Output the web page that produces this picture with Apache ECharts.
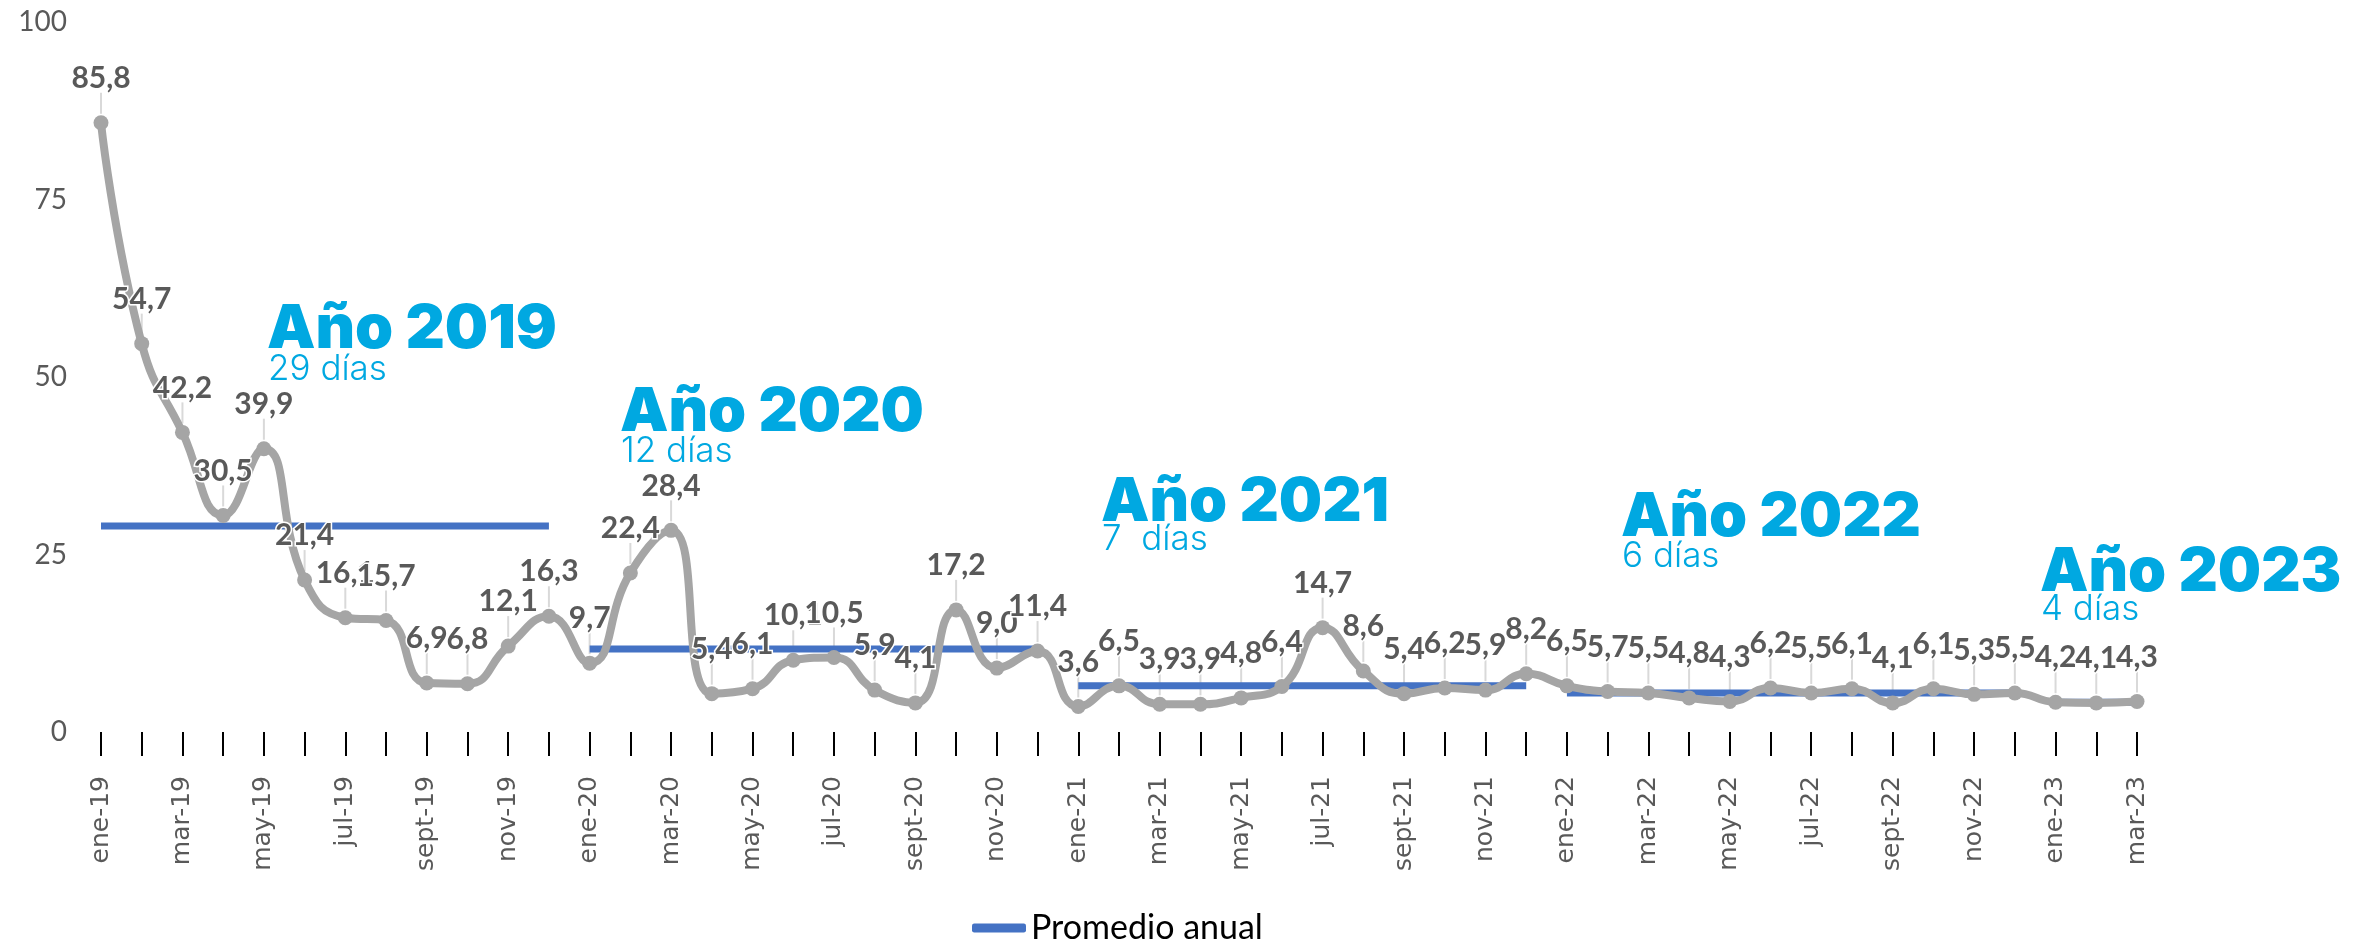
<!DOCTYPE html>
<html>
<head>
<meta charset="utf-8">
<script src="https://cdn.jsdelivr.net/npm/echarts@6/dist/echarts.min.js"></script>
<style>
html,body{margin:0;padding:0;background:#ffffff;}
#c{width:2378px;height:942px;}
</style>
</head>
<body>
<div id="c"></div>
<script>
// ---- Data ----
const months = [
  'ene-19','feb-19','mar-19','abr-19','may-19','jun-19','jul-19','ago-19','sept-19','oct-19','nov-19','dic-19',
  'ene-20','feb-20','mar-20','abr-20','may-20','jun-20','jul-20','ago-20','sept-20','oct-20','nov-20','dic-20',
  'ene-21','feb-21','mar-21','abr-21','may-21','jun-21','jul-21','ago-21','sept-21','oct-21','nov-21','dic-21',
  'ene-22','feb-22','mar-22','abr-22','may-22','jun-22','jul-22','ago-22','sept-22','oct-22','nov-22','dic-22',
  'ene-23','feb-23','mar-23'
];
const dias = [
  85.8,54.7,42.2,30.5,39.9,21.4,16.1,15.7,6.9,6.8,12.1,16.3,
  9.7,22.4,28.4,5.4,6.1,10.1,10.5,5.9,4.1,17.2,9.0,11.4,
  3.6,6.5,3.9,3.9,4.8,6.4,14.7,8.6,5.4,6.2,5.9,8.2,
  6.5,5.7,5.5,4.8,4.3,6.2,5.5,6.1,4.1,6.1,5.3,5.5,
  4.2,4.1,4.3
];
const years = ['2019','2020','2021','2022','2023'];
const yearStart = [0,12,24,36,48];
const yearEnd = [11,23,35,47,50];
const promedioAnual = [29.0, 11.7, 6.5, 5.5, 4.2];
const yearTitles = ['Año 2019','Año 2020','Año 2021','Año 2022','Año 2023'];
const yearDays = ['29 días','12 días','7  días','6 días','4 días'];
const yTicks = [0,25,50,75,100];

// ---- Chart ----
const chart = echarts.init(document.getElementById('c'), null, {renderer:'canvas'});
const fmt = v => v.toFixed(1).replace('.', ',');
const FONT = 'Lato, "Open Sans", sans-serif';

const promSeries = years.map((y, k) => ({
  name: 'Promedio anual',
  type: 'line',
  data: months.map((m, i) => (i >= yearStart[k] && i <= yearEnd[k]) ? promedioAnual[k] : null),
  showSymbol: false,
  symbol: 'none',
  connectNulls: false,
  lineStyle: {color: '#4472C4', width: 7, cap: 'butt'},
  itemStyle: {color: '#4472C4'},
  z: 2,
  silent: true
}));

const annotPos = [
  [267, 329, 372],
  [620, 412, 454],
  [1101, 502, 542],
  [1621, 517, 559],
  [2040, 572, 612]
];
const graphics = [];
yearTitles.forEach((t, k) => {
  graphics.push({type:'text', left: annotPos[k][0], top: annotPos[k][1] - 30, z: 10,
    style:{text: t, fill:'#00A8E1', font: '900 61px Inter, "Open Sans", sans-serif'}});
  graphics.push({type:'text', left: annotPos[k][0] + 1, top: annotPos[k][2] - 20, z: 10,
    style:{text: yearDays[k], fill:'#00A8E1', font: '300 35px Inter, "Open Sans", sans-serif'}});
});

chart.setOption({
  animation: false,
  backgroundColor: '#ffffff',
  grid: {left: 101, right: 241, top: 22, bottom: 210, containLabel: false},
  legend: {
    data: [{name:'Promedio anual', icon: 'roundRect'}],
    left: 967, top: 906,
    itemWidth: 54, itemHeight: 9, itemGap: 6,
    textStyle: {color:'#000000', fontSize: 34, fontFamily: FONT}
  },
  xAxis: {
    type: 'category',
    data: months,
    boundaryGap: false,
    axisLine: {show: false},
    axisTick: {show: true, interval: 0, length: 24, lineStyle: {color:'#000000', width: 2}},
    axisLabel: {interval: 1, rotate: 90, margin: 44, color:'#595959', fontSize: 25, fontFamily: '"DejaVu Sans", sans-serif'},
    splitLine: {show: false}
  },
  yAxis: {
    type: 'value',
    min: yTicks[0], max: yTicks[yTicks.length-1], interval: 25,
    axisLine: {show: false},
    axisTick: {show: false},
    splitLine: {show: false},
    axisLabel: {margin: 34, color:'#595959', fontSize: 28, fontFamily: FONT}
  },
  graphic: graphics,
  series: [
    ...promSeries,
    {
      name: 'leaders',
      type: 'custom',
      data: dias.map((v, i) => [i, v]),
      renderItem: (params, api) => {
        const p = api.coord([api.value(0), api.value(1)]);
        return {type:'line', shape:{x1:p[0], y1:p[1]-9, x2:p[0], y2:p[1]-30},
          style:{stroke:'#D9D9D9', lineWidth:2}};
      },
      z: 1,
      silent: true
    },
    {
      name: 'Días',
      type: 'line',
      data: dias,
      smooth: 0.5,
      symbol: 'circle',
      symbolSize: 15,
      showAllSymbol: true,
      lineStyle: {color:'#A5A5A5', width: 8},
      itemStyle: {color:'#A5A5A5'},
      label: {
        show: true, position: 'top', distance: 22,
        formatter: p => fmt(p.value),
        color: '#595959', fontSize: 30, fontWeight: 'bold',
        fontFamily: FONT,
        textBorderColor: '#ffffff', textBorderWidth: 3
      },
      z: 3
    }
  ]
});
</script>
</body>
</html>
